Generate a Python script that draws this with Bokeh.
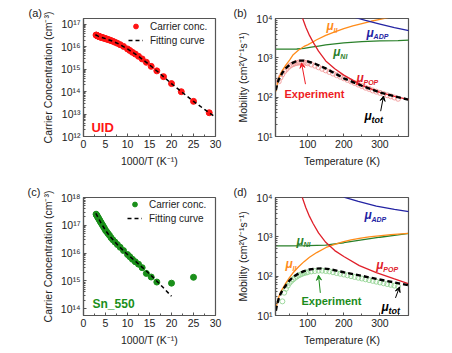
from bokeh.plotting import figure
from bokeh.layouts import gridplot
from bokeh.models import (FixedTicker, CustomJSTickFormatter, Legend, LegendItem,
                          Label, Arrow, VeeHead)
from bokeh.embed import file_html
from bokeh.resources import INLINE

FONT = "Liberation Sans"

# ---------------- data ----------------
# (a) UID: carrier concentration vs temperature
T_a = [350, 340, 330, 320, 310, 300, 290, 280, 270, 260, 250, 240, 230, 220, 210, 200,
       190, 180, 170, 160, 150, 140, 130, 120, 110, 100,
       95, 90, 85, 80, 75, 70, 65, 60, 55, 50, 45, 40, 35]
n_a = [3.39e16, 3.31e16, 3.24e16, 3.16e16, 3.09e16, 3.02e16, 2.95e16, 2.88e16, 2.82e16, 2.75e16,
       2.69e16, 2.63e16, 2.57e16, 2.51e16, 2.40e16, 2.34e16, 2.24e16, 2.14e16, 2.04e16, 1.91e16,
       1.78e16, 1.62e16, 1.45e16, 1.26e16, 1.05e16, 8.1e15,
       6.9e15, 5.75e15, 4.8e15, 3.8e15, 2.9e15, 2.05e15, 1.35e15, 8.5e14, 4.7e14, 2.3e14,
       1.0e14, 3.7e13, 1.15e13]
fit_a_x = [2.7, 3.33, 4.0, 5.0, 6.67, 8.33, 10.0, 12.5, 15.0, 17.5, 20.0, 22.5, 25.0, 27.5, 30.0]
fit_a_n = [3.47e16, 3.02e16, 2.69e16, 2.34e16, 1.78e16, 1.26e16, 8.13e15, 3.80e15, 1.58e15,
           6.17e14, 2.29e14, 9.12e13, 3.72e13, 1.62e13, 7.24e12]

# (c) Sn_550
T_c = [350, 340, 330, 320, 310, 300, 290, 280, 270, 260, 250, 240, 230, 220, 210, 200,
       190, 180, 170, 160, 150, 140, 130, 120, 110, 100,
       95, 90, 85, 80, 75, 70, 65, 60, 50, 40]
n_c = [2.51e17, 2.40e17, 2.26e17, 2.14e17, 2.00e17, 1.86e17, 1.74e17, 1.62e17, 1.48e17, 1.35e17,
       1.23e17, 1.12e17, 1.00e17, 8.9e16, 7.8e16, 6.6e16, 5.9e16, 5.1e16, 4.4e16, 3.6e16,
       3.0e16, 2.5e16, 2.04e16, 1.62e16, 1.23e16, 8.9e15,
       7.4e15, 6.0e15, 4.9e15, 4.0e15, 3.0e15, 1.86e15, 1.38e15, 9.1e14, 8.3e14, 1.35e15]
fit_c_x = [2.8, 4.0, 5.0, 6.0, 8.0, 10.0, 12.0, 14.0, 16.0, 18.0, 20.0]
fit_c_n = [2.69e17, 1.20e17, 6.6e16, 3.98e16, 1.78e16, 8.9e15, 4.8e15, 2.5e15, 1.26e15, 6.0e14, 2.8e14]

# (b) UID mobility
II_b_T = [12, 15, 20, 30, 40, 50, 60, 75, 90, 100, 125, 150, 175, 200, 225, 250, 275, 300, 310, 325]
II_b = [141, 200, 302, 479, 661, 871, 1202, 1585, 1950, 2138, 2884, 3715, 4571, 5495, 6457,
        7413, 8511, 9550, 10000, 10715]
ADP_b_T = [230, 260, 300, 340, 380]
ADP_b = [10715, 8913, 7244, 5888, 4898]
NI_b_T = [10, 30, 50, 70, 90, 110, 130, 150, 200, 250, 300, 350, 380]
NI_b = [1660, 1660, 1660, 1679, 1738, 1862, 1995, 2138, 2399, 2570, 2692, 2754, 2818]
POP_b_T = [85, 95, 105, 115, 130, 150, 175, 200, 250, 300, 340, 380]
POP_b = [10715, 6026, 3715, 2512, 1479, 832, 525, 363, 200, 132, 105, 87]
tot_b_T = [12, 15, 20, 30, 40, 50, 60, 70, 80, 90, 100, 120, 150, 200, 250, 300, 350, 378]
tot_b = [151, 200, 282, 417, 550, 661, 759, 832, 851, 851, 813, 708, 537, 302, 195, 132, 100, 87]
exp_b_T = [20, 25, 30, 35, 40, 45, 50, 55, 60, 65, 70, 75, 80, 85, 90, 95, 100,
           110, 120, 130, 140, 150, 160, 170, 180, 190, 200, 210, 220, 230, 240, 250,
           260, 270, 280, 290, 300, 310, 320, 330, 340, 350]
exp_b = [251, 316, 380, 447, 501, 562, 617, 661, 692, 724, 741, 759, 759, 759, 759, 741, 724,
         676, 631, 575, 525, 479, 437, 398, 363, 331, 302, 275, 251, 229, 209, 191,
         174, 162, 148, 138, 129, 120, 112, 105, 98, 91]

# (d) Sn_550 mobility
II_d_T = [12, 15, 20, 25, 31, 40, 50, 59, 75, 90, 105, 125, 151, 175, 197, 220, 243, 270, 290, 330, 378]
II_d = [13.5, 20.0, 29.5, 38.9, 49.0, 67.6, 93.3, 120, 174, 234, 302, 398, 537, 646, 741, 832,
        912, 1000, 1047, 1135, 1230]
ADP_d_T = [200, 240, 290, 340, 380]
ADP_d = [10233, 7943, 6026, 5012, 4365]
NI_d_T = [10, 50, 100, 150, 175, 200, 250, 300, 350, 380]
NI_d = [589, 589, 596, 617, 661, 708, 832, 977, 1122, 1230]
POP_d_T = [84, 95, 105, 115, 130, 150, 175, 200, 243, 290, 340, 378]
POP_d = [10715, 5495, 3311, 2188, 1259, 724, 447, 316, 186, 123, 85, 65]
tot_d_T = [12, 15, 20, 25, 31, 40, 50, 60, 75, 90, 105, 120, 140, 160, 180, 200, 243, 290, 340, 378]
tot_d = [13.2, 18.6, 26.9, 35.5, 44.7, 58.9, 77.6, 95.5, 117, 135, 148, 155, 158, 151, 138,
         126, 105, 85.1, 69.2, 58.9]
exp_d_T = [30, 35, 40, 45, 50, 55, 60, 65, 70, 75, 80, 85, 90, 95, 100, 110, 120, 130, 140,
           150, 160, 170, 180, 190, 200, 210, 220, 230, 240, 250, 260, 270, 280, 290, 300,
           310, 320, 330, 340, 350]
exp_d = [22.9, 38.0, 47.9, 57.5, 67.6, 75.9, 83.2, 91.2, 97.7, 105, 110, 115, 120, 123, 126,
         132, 135, 138, 138, 135, 132, 126, 120, 115, 110, 105, 100, 95.5, 91.2, 87.1, 83.2,
         79.4, 75.9, 72.4, 69.2, 66.1, 63.1, 60.3, 57.5, 55.0]

# ticks
X_TICKS_N = [0, 5, 10, 15, 20, 25, 30]
X_MINOR_N = [2.5, 7.5, 12.5, 17.5, 22.5, 27.5]
Y_TICKS_A = [1e12, 1e13, 1e14, 1e15, 1e16, 1e17]
Y_TICKS_C = [1e14, 1e15, 1e16, 1e17, 1e18]
X_TICKS_T = [100, 200, 300]
X_MINOR_T = [50, 150, 250, 350]
Y_TICKS_MU = [10, 100, 1000, 10000]

# ---------------- style ----------------
RED_PT = "#ff1414"
GREEN_PT = "#1a8f1a"
ORANGE = "#ff8c1a"
BLUE = "#2323a3"
GREEN_L = "#2a802a"
RED_L = "#e0202a"
EXP_B = "#f29a9a"
EXP_D = "#93d493"
TXT_RED = "#ee1c24"
TXT_GREEN = "#1c8c1c"
AX = "#555555"

SUP_JS = """
const sup = {"0":"\u2070","1":"\u00b9","2":"\u00b2","3":"\u00b3","4":"\u2074","5":"\u2075",
             "6":"\u2076","7":"\u2077","8":"\u2078","9":"\u2079","-":"\u207b"};
const e = Math.round(Math.log10(tick));
return "10" + String(e).split("").map(c => sup[c]).join("");
"""


def minor_log(ticks):
    out = []
    for t in ticks[:-1]:
        out += [t * m for m in range(2, 10)]
    return out


def make_fig(w, h, xr, yr, bl, br, bt, bb, tag, tag_offset):
    p = figure(width=w, height=h, x_range=xr, y_range=yr, y_axis_type="log",
               output_backend="svg", toolbar_location=None, title=tag,
               min_border_left=bl, min_border_right=br, min_border_top=bt, min_border_bottom=bb)
    p.title.align = "left"
    p.title.offset = tag_offset
    p.title.standoff = 0
    p.title.text_font = FONT
    p.title.text_font_size = "11px"
    p.title.text_font_style = "normal"
    p.title.text_color = "#222222"
    p.background_fill_color = "white"
    p.border_fill_color = "white"
    p.outline_line_color = AX
    p.outline_line_width = 1.2
    p.xgrid.visible = False
    p.ygrid.visible = False
    for ax in (p.xaxis[0], p.yaxis[0]):
        ax.axis_line_color = AX
        ax.axis_line_width = 1.2
        ax.major_tick_in = 3
        ax.major_tick_out = 0
        ax.minor_tick_in = 2
        ax.minor_tick_out = 0
        ax.major_tick_line_color = AX
        ax.minor_tick_line_color = AX
        ax.major_label_text_font = FONT
        ax.major_label_text_font_size = "10.5px"
        ax.major_label_text_color = "#222222"
        ax.axis_label_text_font = FONT
        ax.axis_label_text_font_size = "10.5px"
        ax.axis_label_text_font_style = "normal"
        ax.axis_label_text_color = "#222222"
        ax.major_label_standoff = 3
        ax.axis_label_standoff = 4
    p.yaxis.formatter = CustomJSTickFormatter(code=SUP_JS)
    return p


def text_label(p, x, y, text, color, size, style="bold"):
    p.add_layout(Label(x=x, y=y, text=text, text_font=FONT, text_font_size=size,
                       text_font_style=style, text_color=color,
                       text_align="left", text_baseline="middle"))


def mu_label(p, x, y, sub, color, sub_size="7px", dx=7, dy=-4):
    p.add_layout(Label(x=x, y=y, text="\u03bc", text_font=FONT, text_font_size="12px",
                       text_font_style="bold italic", text_color=color,
                       text_align="left", text_baseline="middle"))
    p.add_layout(Label(x=x, y=y, x_offset=dx, y_offset=dy, text=sub, text_font=FONT,
                       text_font_size=sub_size, text_font_style="bold italic",
                       text_color=color, text_align="left", text_baseline="middle"))


def arrow(p, x0, y0, x1, y1, color):
    p.add_layout(Arrow(end=VeeHead(size=5, line_color=color, fill_color=color, line_width=1),
                       x_start=x0, y_start=y0, x_end=x1, y_end=y1,
                       line_color=color, line_width=1))


def conc_panel(p, T, n, fx, fn, color, name, namexy, namesize, legxy):
    p.xaxis.ticker = FixedTicker(ticks=X_TICKS_N, minor_ticks=X_MINOR_N)
    x = [1000.0 / t for t in T]
    sc = p.scatter(x, n, size=6, marker="circle", fill_color=color, line_color=color)
    ln = p.line(fx, fn, line_color="black", line_width=1.5, line_dash="4 3")
    p.xaxis.axis_label = "1000/T (K\u207b\u00b9)"
    p.yaxis.axis_label = "Carrier Concentration (cm\u207b\u00b3)"
    leg = Legend(items=[LegendItem(label="Carrier conc.", renderers=[sc]),
                        LegendItem(label="Fitting curve", renderers=[ln])],
                 location=legxy, border_line_color=None, background_fill_alpha=0,
                 label_text_font=FONT, label_text_font_size="10px", label_text_color="#222222",
                 glyph_width=15, glyph_height=12, label_height=12, label_standoff=7,
                 spacing=2, padding=1, margin=0)
    p.add_layout(leg)
    text_label(p, namexy[0], namexy[1], name, color, namesize)


def mob_panel(p, exp_T, exp_v, exp_c, II_T, II, ADP_T, ADP, NI_T, NI, POP_T, POP, tot_T, tot):
    p.xaxis.ticker = FixedTicker(ticks=X_TICKS_T, minor_ticks=X_MINOR_T)
    p.yaxis.ticker = FixedTicker(ticks=Y_TICKS_MU, minor_ticks=minor_log(Y_TICKS_MU))
    p.xaxis.axis_label = "Temperature (K)"
    p.yaxis.axis_label = "Mobility (cm\u00b2V\u207b\u00b9s\u207b\u00b9)"
    p.scatter(exp_T, exp_v, size=5, marker="circle", fill_color=None, line_color=exp_c,
              line_width=0.9)
    p.line(NI_T, NI, line_color=GREEN_L, line_width=1.3)
    p.line(II_T, II, line_color=ORANGE, line_width=1.3)
    p.line(ADP_T, ADP, line_color=BLUE, line_width=1.3)
    p.line(POP_T, POP, line_color=RED_L, line_width=1.3)
    p.line(tot_T, tot, line_color="black", line_width=2.4, line_dash="5 3")


# ---------------- panels ----------------
pa = make_fig(226, 176, (0, 30), (1e12, 1.85e17), 82, 11, 18, 40, "(a)", -55)
pa.yaxis.ticker = FixedTicker(ticks=Y_TICKS_A, minor_ticks=minor_log(Y_TICKS_A) + [2e17])
conc_panel(pa, T_a, n_a, fit_a_x, fit_a_n, RED_PT, "UID", (1.8, 2.45e12), "13px", (45, 90))

pc = make_fig(226, 177, (0, 30), (5.7e13, 1e18), 83, 11, 18, 38, "(c)", -56)
pc.yaxis.ticker = FixedTicker(ticks=Y_TICKS_C, minor_ticks=minor_log(Y_TICKS_C))
conc_panel(pc, T_c, n_c, fit_c_x, fit_c_n, GREEN_PT, "Sn_550", (2.05, 1.5e14), "12px", (44, 91))

pb = make_fig(226, 176, (11, 379), (10, 1e4), 49, 44, 17, 37, "(b)", -42)
mob_panel(pb, exp_b_T, exp_b, EXP_B, II_b_T, II_b, ADP_b_T, ADP_b, NI_b_T, NI_b,
          POP_b_T, POP_b, tot_b_T, tot_b)
mu_label(pb, 152, 6300, "II", ORANGE)
mu_label(pb, 263, 4300, "ADP", BLUE)
mu_label(pb, 171, 1380, "NI", GREEN_L)
mu_label(pb, 235, 302, "POP", RED_L)
mu_label(pb, 257, 33, "tot", "black", sub_size="9px")
text_label(pb, 36, 120, "Experiment", TXT_RED, "11px")
arrow(pb, 94, 214, 83, 741, TXT_RED)
arrow(pb, 302, 44, 310, 107, "black")

pd = make_fig(226, 177, (11, 379), (10, 1e4), 49, 44, 21, 36, "(d)", -42)
mob_panel(pd, exp_d_T, exp_d, EXP_D, II_d_T, II_d, ADP_d_T, ADP_d, NI_d_T, NI_d,
          POP_d_T, POP_d, tot_d_T, tot_d)
mu_label(pd, 257, 3550, "ADP", BLUE)
mu_label(pd, 69, 794, "NI", GREEN_L)
mu_label(pd, 39, 200, "II", ORANGE)
mu_label(pd, 290, 188, "POP", RED_L)
mu_label(pd, 304, 16.8, "tot", "black", sub_size="9px")
text_label(pd, 83, 23.7, "Experiment", TXT_GREEN, "11px")
arrow(pd, 135, 37.6, 130, 106, TXT_GREEN)
arrow(pd, 343, 28, 354, 53, "black")

grid = gridplot([[pa, pb], [pc, pd]], toolbar_location=None)

with open("out.html", "w", encoding="utf-8") as f:
    f.write(file_html(grid, INLINE))
